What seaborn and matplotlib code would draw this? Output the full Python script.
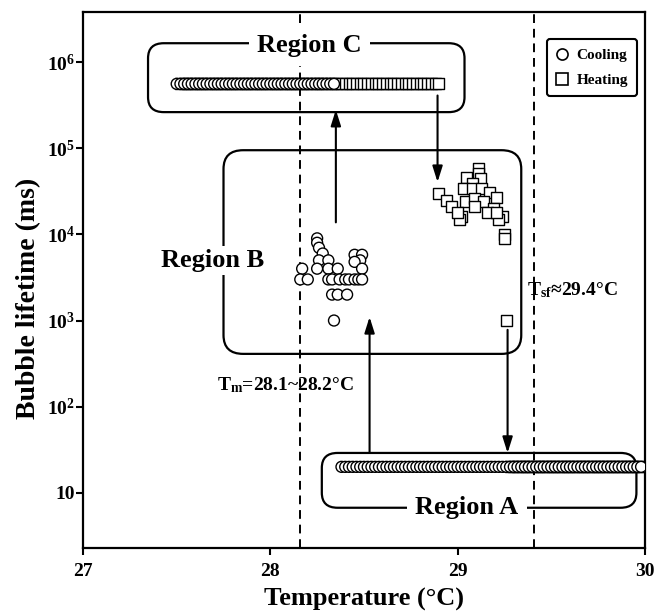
import matplotlib
matplotlib.use("Agg")
import numpy as np
import pandas as pd
import matplotlib.pyplot as plt
import seaborn as sns
from matplotlib.patches import FancyBboxPatch
from matplotlib.lines import Line2D

# ---- data ----
# Region C plateau (~5.6e5 ms)
region_c_cool_T = [
    27.50, 27.52, 27.54, 27.56, 27.58, 27.60, 27.62, 27.64, 27.66, 27.68,
    27.70, 27.72, 27.74, 27.76, 27.78, 27.80, 27.82, 27.84, 27.86, 27.88,
    27.90, 27.92, 27.94, 27.96, 27.98, 28.00, 28.02, 28.04, 28.06, 28.08,
    28.10, 28.12, 28.14, 28.16, 28.18, 28.20, 28.22, 28.24, 28.26, 28.28,
    28.30, 28.32, 28.34,
]
region_c_heat_T = [
    27.52, 27.54, 27.56, 27.58, 27.60, 27.62, 27.64, 27.66, 27.68, 27.70,
    27.72, 27.74, 27.76, 27.78, 27.80, 27.82, 27.84, 27.86, 27.88, 27.90,
    27.92, 27.94, 27.96, 27.98, 28.00, 28.02, 28.04, 28.06, 28.08, 28.10,
    28.12, 28.14, 28.16, 28.18, 28.20, 28.22, 28.24, 28.26, 28.28, 28.30,
    28.32, 28.34, 28.36, 28.38, 28.40, 28.42, 28.44, 28.46, 28.48, 28.50,
    28.52, 28.54, 28.56, 28.58, 28.60, 28.62, 28.64, 28.66, 28.68, 28.70,
    28.72, 28.74, 28.76, 28.78, 28.80, 28.82, 28.84, 28.86, 28.88, 28.90,
]
region_c_life = 5.6e5

# Region B scattered points
region_b_cool_T = [
    28.25, 28.25, 28.26, 28.28, 28.26, 28.31, 28.25, 28.17, 28.31, 28.36,
    28.45, 28.49, 28.48, 28.45, 28.49,
    28.16, 28.20, 28.31, 28.33, 28.37, 28.40, 28.42, 28.45, 28.47, 28.49,
    28.33, 28.36, 28.41,
    28.34,
]
region_b_cool_life = [
    9000, 8000, 7000, 6000, 5000, 5000, 4000, 4000, 4000, 4000,
    5800, 5800, 5000, 4800, 4000,
    3000, 3000, 3000, 3000, 3000, 3000, 3000, 3000, 3000, 3000,
    2000, 2000, 2000,
    1000,
]
region_b_heat_T = [
    29.11, 29.11, 29.12, 29.05, 29.08, 29.03, 29.08, 29.13, 29.17, 29.21,
    28.90, 28.94, 28.97, 29.04, 29.09, 29.14, 29.09, 29.19, 29.16, 29.02,
    29.01, 29.24, 29.22, 29.25, 29.25, 29.00, 29.21,
    29.26,
]
region_b_heat_life = [
    59000, 51000, 45000, 46000, 39000, 34000, 34000, 34000, 31000, 27000,
    30000, 25000, 21000, 24000, 26000, 24000, 21000, 20000, 18000, 16000,
    15000, 16000, 15000, 10000, 9000, 18000, 18000,
    1000,
]

# Region A plateau (~20 ms)
region_a_cool_T = [
    28.38, 28.40, 28.42, 28.44, 28.46, 28.48, 28.50, 28.52, 28.54, 28.56,
    28.58, 28.60, 28.62, 28.64, 28.66, 28.68, 28.70, 28.72, 28.74, 28.76,
    28.78, 28.80, 28.82, 28.84, 28.86, 28.88, 28.90, 28.92, 28.94, 28.96,
    28.98, 29.00, 29.02, 29.04, 29.06, 29.08, 29.10, 29.12, 29.14, 29.16,
    29.18, 29.20, 29.22, 29.24, 29.26, 29.28, 29.30, 29.32, 29.34, 29.36,
    29.38, 29.40, 29.42, 29.44, 29.46, 29.48, 29.50, 29.52, 29.54, 29.56,
    29.58, 29.60, 29.62, 29.64, 29.66, 29.68, 29.70, 29.72, 29.74, 29.76,
    29.78, 29.80, 29.82, 29.84, 29.86, 29.88, 29.90, 29.92, 29.94, 29.96,
    29.98,
]
region_a_heat_T = [
    29.28, 29.30, 29.32, 29.34, 29.36, 29.38, 29.40, 29.42, 29.44, 29.46,
    29.48, 29.50, 29.52, 29.54, 29.56, 29.58, 29.60, 29.62, 29.64, 29.66,
    29.68, 29.70, 29.72, 29.74, 29.76, 29.78, 29.80, 29.82, 29.84, 29.86,
    29.88, 29.90, 29.92, 29.94, 29.96, 29.98,
]
region_a_life = 20

tm_line = 28.16
tsf_line = 29.41
y_ticks = [10, 1e2, 1e3, 1e4, 1e5, 1e6]
y_tick_labels = ["10", "$10^{2}$", "$10^{3}$", "$10^{4}$", "$10^{5}$", "$10^{6}$"]
x_ticks = [27, 28, 29, 30]

# heating first so the circles sit on top where rows overlap
parts = [
    ("Heating", region_c_heat_T, [region_c_life] * len(region_c_heat_T)),
    ("Heating", region_b_heat_T, region_b_heat_life),
    ("Heating", region_a_heat_T, [region_a_life] * len(region_a_heat_T)),
    ("Cooling", region_c_cool_T, [region_c_life] * len(region_c_cool_T)),
    ("Cooling", region_b_cool_T, region_b_cool_life),
    ("Cooling", region_a_cool_T, [region_a_life] * len(region_a_cool_T)),
]
df = pd.concat(
    [pd.DataFrame({"mode": m, "T": t, "life": v}) for m, t, v in parts],
    ignore_index=True,
)

sns.set_theme(style="ticks")
plt.rcParams["font.family"] = ["Liberation Serif", "DejaVu Serif"]
plt.rcParams["font.weight"] = "bold"
plt.rcParams["mathtext.fontset"] = "custom"
plt.rcParams["mathtext.rm"] = "Liberation Serif:bold"
plt.rcParams["mathtext.it"] = "Liberation Serif:bold"
plt.rcParams["mathtext.bf"] = "Liberation Serif:bold"
for key in ("text.color", "axes.labelcolor", "xtick.color", "ytick.color",
            "axes.edgecolor"):
    plt.rcParams[key] = "black"

fig, ax = plt.subplots(figsize=(6.54, 6.12), dpi=100)
fig.subplots_adjust(left=0.127, right=0.986, bottom=0.105, top=0.980)
ax.set_yscale("log")

sns.scatterplot(
    data=df, x="T", y="life", style="mode",
    markers={"Cooling": "o", "Heating": "s"},
    s=62, color="white", edgecolor="black", linewidth=1.0,
    legend=False, ax=ax, zorder=3,
)

ax.set_xlim(27, 30)
ax.set_ylim(2.3, 3.8e6)
ax.set_xticks(x_ticks)
ax.set_xticklabels([str(t) for t in x_ticks])
ax.set_yticks(y_ticks)
ax.set_yticklabels(y_tick_labels)
ax.yaxis.set_minor_locator(matplotlib.ticker.NullLocator())
ax.tick_params(axis="both", which="major", direction="out", length=5,
               width=1.5, labelsize=14, color="black", labelcolor="black")
ax.tick_params(axis="y", pad=1)
ax.tick_params(axis="x", pad=6)
for sp in ax.spines.values():
    sp.set_linewidth(1.6)
    sp.set_color("black")
    sp.set_visible(True)

ax.set_xlabel("Temperature (°C)", fontsize=19, fontweight="bold", labelpad=6,
              color="black")
ax.set_ylabel("Bubble lifetime (ms)", fontsize=20, fontweight="bold",
              color="black")
ax.yaxis.set_label_coords(-0.075, 0.466)

for xv in (tm_line, tsf_line):
    ax.axvline(xv, color="black", lw=1.4, ls=(0, (4.5, 3)), zorder=1)


def to_axes(t, v):
    return ax.transAxes.inverted().transform(ax.transData.transform((t, v)))


def region_box(t0, t1, v0, v1, r):
    x0, y0 = to_axes(t0, v0)
    x1, y1 = to_axes(t1, v1)
    ax.add_patch(FancyBboxPatch(
        (x0, y0), x1 - x0, y1 - y0,
        boxstyle=f"round,pad=0,rounding_size={r}",
        transform=ax.transAxes, fill=False, lw=1.6, ec="black", zorder=2,
    ))


region_box(27.347, 29.037, 2.63e5, 1.66e6, 0.028)
region_box(27.75, 29.34, 410, 9.5e4, 0.035)
region_box(28.275, 29.955, 6.7, 29, 0.028)

label_bg = dict(fc="white", ec="none", pad=6)
ax.text(28.21, 1.55e6, "Region C", ha="center", va="center", fontsize=19,
        fontweight="bold", bbox=label_bg, zorder=4, color="black")
ax.text(29.05, 6.7, "Region A", ha="center", va="center", fontsize=19,
        fontweight="bold", bbox=label_bg, zorder=4, color="black")
ax.text(27.69, 5000, "Region B", ha="center", va="center", fontsize=19,
        fontweight="bold", bbox=dict(fc="white", ec="none", pad=2), zorder=4,
        color="black")

ax.text(27.715, 180, r"T$_{\mathrm{m}}$=28.1~28.2°C", ha="left", va="center",
        fontsize=14, fontweight="bold", zorder=4, color="black")
ax.text(29.373, 2260, r"T$_{\mathrm{sf}}$≈29.4°C", ha="left", va="center",
        fontsize=14, fontweight="bold", zorder=4, color="black")

arrow_kw = dict(arrowstyle="-|>,head_length=0.95,head_width=0.3",
                color="black", lw=1.5, shrinkA=0, shrinkB=0, mutation_scale=10)
ax.annotate("", xy=(28.35, 2.8e5), xytext=(28.35, 13800), arrowprops=arrow_kw)
ax.annotate("", xy=(28.893, 40500), xytext=(28.893, 4.1e5), arrowprops=arrow_kw)
ax.annotate("", xy=(28.53, 1100), xytext=(28.53, 29), arrowprops=arrow_kw)
ax.annotate("", xy=(29.267, 29), xytext=(29.267, 780), arrowprops=arrow_kw)

handles = [
    Line2D([], [], marker="o", ls="", mfc="white", mec="black", ms=8, mew=1.2,
           label="Cooling"),
    Line2D([], [], marker="s", ls="", mfc="white", mec="black", ms=8, mew=1.2,
           label="Heating"),
]
leg = ax.legend(handles=handles, loc="upper right", bbox_to_anchor=(0.986, 0.950),
                frameon=True, fancybox=True, framealpha=1, edgecolor="black",
                prop={"family": "Liberation Serif", "weight": "bold", "size": 11},
                handlelength=0.7, handletextpad=0.6, borderpad=0.6,
                labelspacing=0.75, borderaxespad=0)
leg.get_frame().set_linewidth(1.5)
for txt in leg.get_texts():
    txt.set_color("black")
leg.set_zorder(5)

fig.savefig("out.png", dpi=100, facecolor="white")
